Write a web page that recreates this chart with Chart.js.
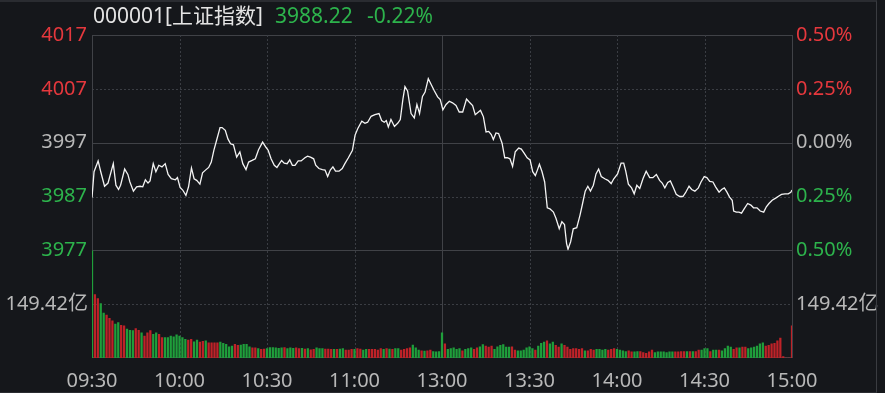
<!DOCTYPE html>
<html><head><meta charset="utf-8">
<script src="https://cdn.jsdelivr.net/npm/chart.js@4.4.1/dist/chart.umd.min.js"></script>
<style>
html,body{margin:0;padding:0;background:#15171b;}
#wrap{position:relative;width:885px;height:393px;overflow:hidden;background:#15171b;}
#c{position:absolute;left:0;top:0;}
.t{position:absolute;top:2px;font-size:21px;font-family:"Noto Sans","Noto Sans CJK SC",sans-serif;line-height:26px;white-space:nowrap;}
.frame{position:absolute;left:-2px;top:0;width:878px;height:390px;border-top:2px solid #2a2c31;border-right:1px solid #3a3c41;border-bottom:1px solid #2a2c31;pointer-events:none;}
</style></head><body>
<div id="wrap">
<canvas id="c" width="885" height="393"></canvas>
<div class="t" id="tName" style="left:93px;color:#e4e4e4"></div>
<div class="t" id="tPrice" style="left:275px;color:#2db34c"></div>
<div class="t" id="tPct" style="left:367px;color:#2db34c"></div>
<div class="frame"></div>
</div>
<script>
// ---------- data ----------
const stockCode = '000001';
const stockName = '上证指数';
const lastPrice = 3988.22;
const changePct = -0.22;
const preClose = 3997.01;
const timeLabels = ['09:30','10:00','10:30','11:00','13:00','13:30','14:00','14:30','15:00'];
const priceTicks = [3977, 3987, 3997, 4007, 4017];
const volumeRef = 149.42; // 亿

// minute index (0 = 09:30, 120 = 11:30/13:00, 240 = 15:00)
const priceMinutes = [0,0.7,2.1,3.0,4.3,5.5,7.3,8.2,9.1,9.8,11.2,12.3,13.0,14.2,15.3,16.5,17.4,18.3,19.2,19.9,
21.0,21.9,22.9,24.0,25.1,26.1,27.2,28.6,29.3,30.2,31.1,32.2,33.1,34.1,35.0,35.9,37.0,37.9,38.9,40.0,
40.9,41.8,42.7,43.9,44.6,45.7,46.6,47.5,48.5,49.6,50.7,51.7,52.8,53.7,54.9,56.0,57.1,58.5,59.7,60.4,
61.4,62.5,63.4,65.0,65.9,66.9,67.8,68.7,69.6,70.7,71.7,73.0,73.9,74.9,76.0,76.7,77.8,79.0,79.9,80.8,
81.7,82.6,83.5,84.7,85.8,86.7,87.9,89.3,90.2,91.1,92.5,93.6,94.5,95.7,97.0,98.4,99.3,100.2,100.9,101.6,
102.5,103.7,104.8,105.7,106.6,107.3,108.2,109.4,110.5,111.4,112.3,113.3,114.2,115.3,116.2,117.4,118.5,119.4,120.3,121.4,
122.5,123.6,124.8,125.9,127.1,128.4,129.4,130.5,131.4,132.3,133.2,134.2,135.1,136.0,136.9,137.6,138.5,139.4,140.6,141.5,
142.4,143.3,144.2,145.1,146.3,147.2,148.1,149.2,150.2,151.1,152.0,152.7,153.4,154.3,155.2,156.1,157.0,158.2,159.1,160.2,
161.1,162.0,162.7,163.2,164.1,165.0,166.2,167.3,168.2,169.1,170.0,170.9,171.9,172.8,173.7,174.6,175.8,176.9,178.0,178.9,
180.2,181.4,182.3,183.0,183.9,185.0,185.9,186.8,187.8,188.9,190.0,191.2,192.3,193.5,194.6,195.5,196.4,197.4,198.3,199.2,
200.3,201.5,202.6,203.5,204.7,205.6,206.7,207.9,208.8,209.9,210.8,211.8,212.9,213.8,215.0,215.9,216.8,217.7,218.6,219.5,
220.0,220.9,221.8,222.7,223.6,224.8,225.9,226.8,228.0,229.1,230.3,231.2,232.1,233.2,234.4,235.5,236.4,237.6,238.7,239.6,240];
const priceValues = [3986.8,3991.6,3993.6,3991.6,3988.9,3989.5,3993.1,3989.1,3988.3,3989.1,3992.1,3991.1,3989.7,3988.0,3988.8,3988.9,3988.8,3990.1,3989.5,3989.9,
3993.1,3991.6,3992.8,3992.5,3993.1,3991.1,3990.3,3990.1,3990.5,3988.7,3988.2,3987.2,3988.8,3992.3,3990.3,3990.0,3989.3,3991.4,3991.9,3992.4,
3993.4,3995.6,3997.4,3999.8,3999.8,3999.3,3997.7,3996.8,3996.6,3994.3,3995.3,3993.1,3992.0,3993.4,3993.7,3994.0,3995.7,3997.1,3996.1,3995.6,
3994.0,3992.8,3992.4,3993.7,3993.2,3993.1,3993.8,3992.8,3992.8,3993.6,3993.6,3994.2,3994.5,3994.3,3994.0,3992.8,3992.2,3992.0,3991.9,3990.7,
3991.9,3992.5,3991.7,3991.7,3992.2,3993.1,3994.2,3995.6,3998.4,3999.6,4001.0,4000.6,4000.8,4001.9,4002.2,4002.4,4001.1,4000.8,4001.1,3999.9,
4001.3,4000.0,4000.6,4001.3,4005.1,4007.4,4006.6,4002.4,4001.6,4004.1,4002.4,4005.6,4006.4,4008.9,4007.9,4006.6,4005.5,4005.0,4003.1,4004.1,
4004.7,4004.4,4003.9,4002.7,4002.7,4005.1,4004.5,4003.9,4002.2,4002.6,4003.0,4001.8,3999.0,3999.1,3998.5,3997.6,3998.8,3998.7,3996.9,3994.2,
3994.2,3994.0,3992.6,3995.3,3996.0,3995.8,3995.1,3994.2,3993.8,3991.6,3990.9,3991.9,3993.0,3991.6,3989.7,3984.9,3984.7,3984.1,3982.9,3981.0,
3982.3,3981.8,3978.3,3977.2,3978.6,3981.0,3981.2,3983.5,3985.7,3988.0,3988.9,3988.0,3989.1,3991.2,3992.1,3990.7,3990.3,3990.0,3989.4,3990.3,
3991.2,3993.2,3993.2,3991.7,3989.3,3988.6,3987.5,3989.1,3988.5,3990.3,3991.7,3990.5,3990.5,3991.1,3990.0,3989.5,3988.6,3989.6,3989.9,3988.8,
3987.4,3987.0,3987.0,3987.7,3988.9,3988.3,3988.0,3988.6,3989.7,3990.7,3990.5,3989.8,3989.7,3988.8,3987.8,3988.3,3988.6,3987.8,3986.9,3986.3,
3984.3,3984.1,3984.1,3983.9,3984.7,3985.7,3985.4,3984.9,3984.9,3984.3,3984.1,3985.1,3985.7,3986.3,3986.7,3987.1,3987.4,3987.5,3987.5,3987.8,3988.22];

// per-minute volume (亿), one bar per minute index 0..240
const volumes = [298,176,165,151,125,119,110,103,94,98, 91,89,80,77,76,82,77,70,61,70,
76,66,70,66,57,57,57,61,59,64, 61,57,52,50,52,45,50,44,46,48,
42,42,42,42,44,41,38,31,33,38, 35,36,38,38,31,28,28,26,24,25,
26,29,29,28,27,28,29,26,28,27, 28,26,27,25,26,23,24,28,26,26,
25,25,24,24,24,25,26,22,22,24, 24,26,25,22,24,24,24,24,22,26,
24,26,25,24,26,26,22,24,26,28, 36,28,22,20,19,20,22,18,17,18,
70,39,24,26,28,24,26,20,24,26, 28,24,28,31,37,33,30,33,24,31,
35,37,30,30,31,22,20,20,22,28, 31,26,22,33,41,44,48,39,44,35,
30,39,35,30,24,26,26,24,26,20, 20,24,22,24,24,22,24,22,24,26,
24,22,20,18,20,17,17,18,18,15, 13,17,22,15,17,17,17,15,17,17,
17,17,18,18,18,18,18,18,22,22, 26,26,18,22,22,22,20,26,33,30,
24,28,28,30,30,26,28,30,33,39, 42,33,35,39,41,48,55,4,0,0, 89];
// R = red (up), G = green (down), per bar
const volumeDir = ('GRRGGRRRGG'+'RRGGGRRGRR'+'RGGRRGGGGG'+'GGGRRGGRRG'+'RRRRGGGGGR'+'RGGGGRRGRR'+
'GGGGGGRGGG'+'RRGRGRRGGG'+'RRRGRGGRRR'+'GRRGGRRRRR'+'GRGRGGRRRR'+'GGGRGRRGGG'+
'GRGGGGGRGG'+'GRRGGRRRGG'+'GGGGRRGGGG'+'GGRGGGRGGR'+'RGRRRRRRRG'+'RRRGGGGRRR'+
'GGGGRRGGRR'+'RRRGGGGGGG'+'RRRRGRGRRG'+'GGRGGRGGGG'+'RRGRRGGGGG'+'GRRRRRRRRR'+'R').split('');

// ---------- colours ----------
const RED = '#e5383d', GREEN = '#2db34c', GRAY = '#b8b8b8';
const BAR_RED = '#bf2228', BAR_GREEN = '#1f9f3b';
const GRID = '#404247', GRID_DOT = '#3a3d43';
const FONT = {family:'"Noto Sans","Noto Sans CJK SC",sans-serif', size:20};

document.getElementById('tName').textContent = stockCode + '[' + stockName + ']';
document.getElementById('tPrice').textContent = lastPrice.toFixed(2);
document.getElementById('tPct').textContent = changePct.toFixed(2) + '%';

const priceMin = Math.min(...priceTicks), priceMax = Math.max(...priceTicks);
const isMid = v => Math.abs(v - preClose) < 0.5;
const priceColor = v => isMid(v) ? GRAY : (v > preClose ? RED : GREEN);

const gridPlugin = {
  id: 'gridLines',
  beforeDatasetsDraw(chart) {
    const {ctx, chartArea: a, scales} = chart;
    const xs = scales.x, yp = scales.yPriceL, yv = scales.yVolL;
    const px = v => Math.round(v) + 0.5;
    ctx.save();
    ctx.lineWidth = 1;
    const h = (y, dotted, col) => {
      ctx.strokeStyle = col; ctx.setLineDash(dotted ? [2, 2] : []);
      ctx.beginPath(); ctx.moveTo(a.left, px(y)); ctx.lineTo(a.right, px(y)); ctx.stroke();
    };
    const v = (x, dotted, col) => {
      ctx.strokeStyle = col; ctx.setLineDash(dotted ? [2, 2] : []);
      ctx.beginPath(); ctx.moveTo(px(x), a.top); ctx.lineTo(px(x), a.bottom); ctx.stroke();
    };
    priceTicks.forEach(t => {
      const y = yp.getPixelForValue(t);
      if (t === priceMin || t === priceMax) h(y, false, GRID);
      else if (isMid(t)) h(y, false, GRID);
      else h(y, true, GRID_DOT);
    });
    h(yv.getPixelForValue(volumeRef), true, GRID_DOT);
    timeLabels.forEach((lab, k) => {
      const m = k * 30;
      const x = xs.getPixelForValue(m);
      if (m === 0 || m === 240) v(x, false, GRID);
      else if (m === 120) v(x, false, GRID);
      else v(x, true, GRID_DOT);
    });
    h(a.bottom - 1, false, GRID);
    ctx.restore();
  }
};

new Chart(document.getElementById('c'), {
  data: {
    datasets: [
      {
        type: 'line',
        data: priceMinutes.map((m, k) => ({x: m, y: priceValues[k]})),
        xAxisID: 'x', yAxisID: 'yPriceL',
        borderColor: '#f4f4f4', borderWidth: 1.3, pointRadius: 0, tension: 0,
        order: 0
      },
      {
        type: 'bar',
        data: volumes.map((v, i) => ({x: i, y: v})),
        xAxisID: 'x', yAxisID: 'yVolL',
        backgroundColor: volumeDir.map(d => d === 'R' ? BAR_RED : BAR_GREEN),
        barThickness: 1.6, borderWidth: 0,
        order: 1
      }
    ]
  },
  options: {
    responsive: false, animation: false, devicePixelRatio: 1,
    layout: {padding: {top: 35, left: 0, right: 0, bottom: 0}},
    plugins: {legend: {display: false}, tooltip: {enabled: false}},
    scales: {
      x: {
        type: 'linear', min: 0, max: 240, position: 'bottom', offset: false,
        grid: {display: false, drawTicks: false, offset: false}, border: {display: false},
        afterBuildTicks: s => { s.ticks = timeLabels.map((l, k) => ({value: k * 30})); },
        afterFit: s => { s.height = 35; },
        ticks: {autoSkip: false, maxRotation: 0, padding: 11, color: GRAY, font: FONT,
          callback: v => timeLabels[Math.round(v / 30)]}
      },
      yVolL: {
        type: 'linear', position: 'left', stack: 'L', stackWeight: 1, min: 0, max: volumeRef * 2,
        grid: {display: false, drawTicks: false}, border: {display: false},
        afterBuildTicks: s => { s.ticks = [{value: volumeRef}]; },
        afterFit: s => { s.width = 92; },
        ticks: {padding: 4, color: GRAY, font: FONT, callback: v => v.toFixed(2) + '亿'}
      },
      yPriceL: {
        type: 'linear', position: 'left', stack: 'L', stackWeight: 2, min: priceMin, max: priceMax,
        grid: {display: false, drawTicks: false}, border: {display: false},
        afterBuildTicks: s => { s.ticks = priceTicks.map(t => ({value: t})); },
        afterFit: s => { s.width = 92; },
        ticks: {padding: 5, font: FONT, color: c => priceColor(c.tick.value), callback: v => String(v)}
      },
      yPriceR: {
        type: 'linear', position: 'right', stack: 'R', stackWeight: 2, min: priceMin, max: priceMax,
        grid: {display: false, drawTicks: false}, border: {display: false},
        afterBuildTicks: s => { s.ticks = priceTicks.map(t => ({value: t})); },
        afterFit: s => { s.width = 93; },
        ticks: {padding: 4, font: FONT, color: c => priceColor(c.tick.value),
          callback: v => Math.abs((v - preClose) / preClose * 100).toFixed(2) + '%'}
      },
      yVolR: {
        type: 'linear', position: 'right', stack: 'R', stackWeight: 1, min: 0, max: volumeRef * 2,
        grid: {display: false, drawTicks: false}, border: {display: false},
        afterBuildTicks: s => { s.ticks = [{value: volumeRef}]; },
        afterFit: s => { s.width = 93; },
        ticks: {padding: 4, color: GRAY, font: FONT, callback: v => v.toFixed(2) + '亿'}
      }
    }
  },
  plugins: [gridPlugin]
});
</script>
</body></html>
